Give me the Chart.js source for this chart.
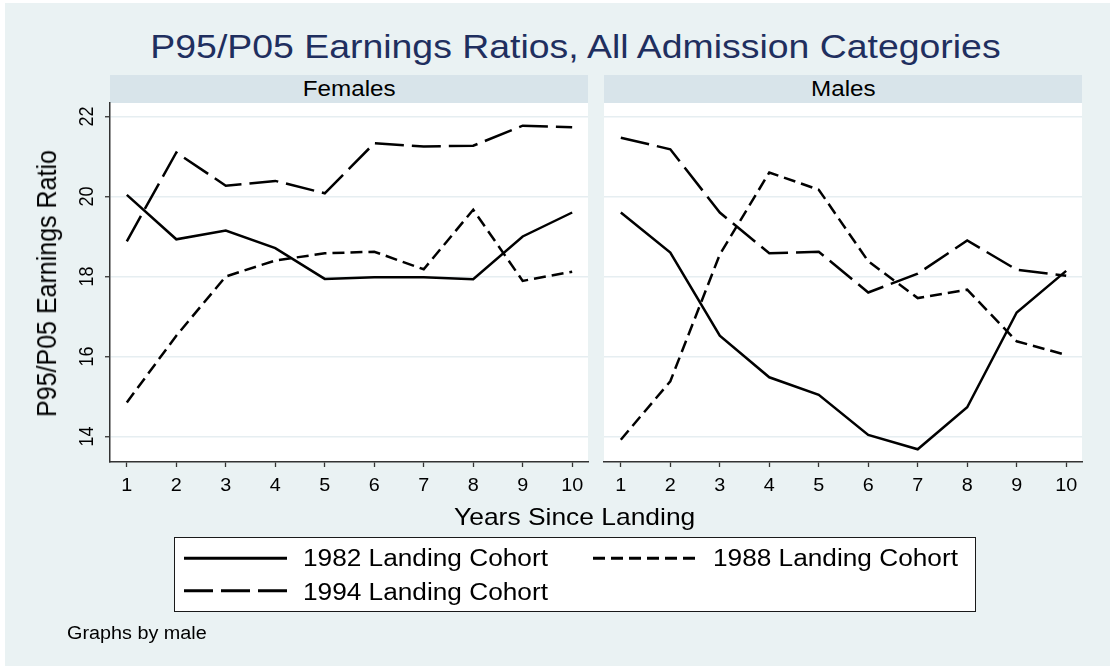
<!DOCTYPE html>
<html><head><meta charset="utf-8">
<script src="https://cdn.jsdelivr.net/npm/chart.js@4.4.1/dist/chart.umd.min.js"></script>
<style>
html,body{margin:0;padding:0;background:#fff;width:1110px;height:666px;overflow:hidden;font-family:"Liberation Sans",Arial,sans-serif;}
#bg{position:absolute;left:5px;top:3px;width:1105px;height:663px;background:#EAF2F3;}
.t{position:absolute;white-space:nowrap;color:#000;}
.c{text-align:center;}
.s{display:inline-block;transform:scaleX(1.1);}
.sl{display:inline-block;transform:scaleX(1.1);transform-origin:0 50%;}
.sg{display:inline-block;transform:scaleX(1.14);transform-origin:0 50%;}
.strip{position:absolute;top:75px;height:28px;background:#D8E4EA;}
canvas{position:absolute;top:0;}
#legend{position:absolute;left:174px;top:537px;width:802px;height:75px;box-sizing:border-box;border:1.3px solid #1a1a1a;background:#fff;}
svg{position:absolute;left:0;top:0;}
</style></head>
<body>
<div id="bg"></div>
<div class="t c" style="left:75.5px;top:28.5px;width:1000px;font-size:34px;line-height:34px;color:#1F2F5F"><span class="s">P95/P05 Earnings Ratios, All Admission Categories</span></div>
<div class="strip" style="left:110px;width:478px"></div>
<div class="strip" style="left:604px;width:478px"></div>
<div class="t c" style="left:199px;width:300px;top:77.7px;font-size:22px;line-height:22px"><span class="s" id="panelF"></span></div>
<div class="t c" style="left:693px;width:300px;top:77.7px;font-size:22px;line-height:22px"><span class="s" id="panelM"></span></div>
<canvas id="cF" width="600" height="520" style="left:0px;width:600px;height:520px"></canvas>
<canvas id="cM" width="510" height="520" style="left:600px;width:510px;height:520px"></canvas>
<div class="t c" style="left:-153px;top:270.5px;width:400px;font-size:25px;line-height:25px;transform:rotate(-90deg) scaleY(1.1);transform-origin:50% 50%">P95/P05 Earnings Ratio</div>
<div class="t c" style="left:375px;top:505.2px;width:400px;font-size:24px;line-height:24px"><span class="s">Years Since Landing</span></div>
<div id="legend"></div>
<svg width="1110" height="666">
  <line x1="184" y1="558.3" x2="287" y2="558.3" stroke="#000" stroke-width="3"/>
  <line x1="593" y1="558.3" x2="695" y2="558.3" stroke="#000" stroke-width="3" stroke-dasharray="12 6"/>
  <line x1="184" y1="590.7" x2="287" y2="590.7" stroke="#000" stroke-width="3" stroke-dasharray="29 8"/>
</svg>
<div class="t" id="lg0" style="left:303px;top:547.2px;font-size:23px;line-height:23px"></div>
<div class="t" id="lg1" style="left:713px;top:547.2px;font-size:23px;line-height:23px"></div>
<div class="t" id="lg2" style="left:303px;top:580.5px;font-size:23px;line-height:23px"></div>
<div class="t" style="left:67px;top:623.8px;font-size:18px;line-height:18px"><span class="sl">Graphs by male</span></div>
<script>
// ---- data ----
const years = [1, 2, 3, 4, 5, 6, 7, 8, 9, 10];
const cohorts = ["1982 Landing Cohort", "1988 Landing Cohort", "1994 Landing Cohort"];
const panels = ["Females", "Males"];
const yTicks = [14, 16, 18, 20, 22];
const xTicks = [1, 2, 3, 4, 5, 6, 7, 8, 9, 10];

const fem1982 = [20.04, 18.93, 19.15, 18.71, 17.94, 17.98, 17.98, 17.93, 19.00, 19.60];
const fem1988 = [14.85, 16.52, 18.00, 18.40, 18.58, 18.62, 18.18, 19.67, 17.89, 18.12];
const fem1994 = [18.88, 21.10, 20.27, 20.39, 20.08, 21.33, 21.25, 21.27, 21.77, 21.73];

const mal1982 = [19.60, 18.60, 16.52, 15.48, 15.04, 14.04, 13.68, 14.73, 17.10, 18.14];
const mal1988 = [13.92, 15.38, 18.55, 20.60, 20.17, 18.38, 17.46, 17.67, 16.38, 16.04];
const mal1994 = [21.47, 21.18, 19.60, 18.58, 18.62, 17.60, 18.07, 18.90, 18.17, 18.02];

// ---- texts ----
document.getElementById('panelF').textContent = panels[0];
document.getElementById('panelM').textContent = panels[1];
['lg0','lg1','lg2'].forEach((id,i)=>{
  const s=document.createElement('span'); s.className='sg'; s.textContent=cohorts[i];
  document.getElementById(id).appendChild(s);
});

const dashes = [[], [12, 6], [29, 8]];
const FONT = '"Liberation Sans", Arial, sans-serif';

const plotBg = {
  id: 'plotBg',
  beforeDraw(chart) {
    const {ctx, chartArea: a} = chart;
    ctx.save(); ctx.fillStyle = '#fff';
    ctx.fillRect(a.left, a.top, a.right - a.left, a.bottom - a.top);
    ctx.restore();
  }
};

function tickLabels(isLeft) {
  return {
    id: 'tickLabels',
    afterDraw(chart) {
      const ctx = chart.ctx;
      ctx.save();
      ctx.fillStyle = '#000';
      ctx.font = '18px ' + FONT;
      ctx.textAlign = 'center';
      ctx.textBaseline = 'middle';
      const xs = chart.scales.x;
      xTicks.forEach(v => {
        const px = xs.getPixelForValue(v);
        ctx.save(); ctx.translate(px, 486); ctx.scale(1.1, 1);
        ctx.fillText(String(v), 0, 0); ctx.restore();
      });
      if (isLeft) {
        const ys = chart.scales.y;
        yTicks.forEach(v => {
          const py = ys.getPixelForValue(v);
          ctx.save(); ctx.translate(88, py); ctx.rotate(-Math.PI / 2); ctx.scale(1, 1.1);
          ctx.fillText(String(v), 0, 0); ctx.restore();
        });
      }
      ctx.restore();
    }
  };
}

function makeChart(id, series, isLeft) {
  return new Chart(document.getElementById(id), {
    type: 'line',
    data: {
      datasets: series.map((vals, i) => ({
        label: cohorts[i],
        data: years.map((x, k) => ({x: x, y: vals[k]})),
        borderColor: '#000',
        borderWidth: 2.5,
        borderDash: dashes[i],
        pointRadius: 0,
        tension: 0,
        fill: false
      }))
    },
    options: {
      responsive: false,
      animation: false,
      devicePixelRatio: 1,
      layout: {padding: {left: isLeft ? 0 : 4, right: isLeft ? 12 : 28, top: 103, bottom: 0}},
      plugins: {legend: {display: false}, tooltip: {enabled: false}},
      scales: {
        x: {
          type: 'linear', min: 0.66, max: 10.32,
          afterBuildTicks: s => { s.ticks = xTicks.map(v => ({value: v})); },
          afterFit: s => { s.height = 58; },
          ticks: {display: false},
          grid: {drawOnChartArea: false, drawTicks: true, tickLength: 5, tickColor: '#333', tickWidth: 1.3},
          border: {display: true, color: '#333', width: 1.5}
        },
        y: {
          type: 'linear', min: 13.3625, max: 22.3375,
          afterBuildTicks: s => { s.ticks = yTicks.map(v => ({value: v})); },
          afterFit: s => { s.width = isLeft ? 110 : 0; },
          ticks: {display: false},
          grid: {color: '#E6EEF1', lineWidth: 1.5, drawTicks: isLeft, tickLength: 5, tickColor: '#333', tickWidth: 1.3},
          border: {display: isLeft, color: '#333', width: 1.5}
        }
      }
    },
    plugins: [plotBg, tickLabels(isLeft)]
  });
}

makeChart('cF', [fem1982, fem1988, fem1994], true);
makeChart('cM', [mal1982, mal1988, mal1994], false);
</script>
</body></html>
